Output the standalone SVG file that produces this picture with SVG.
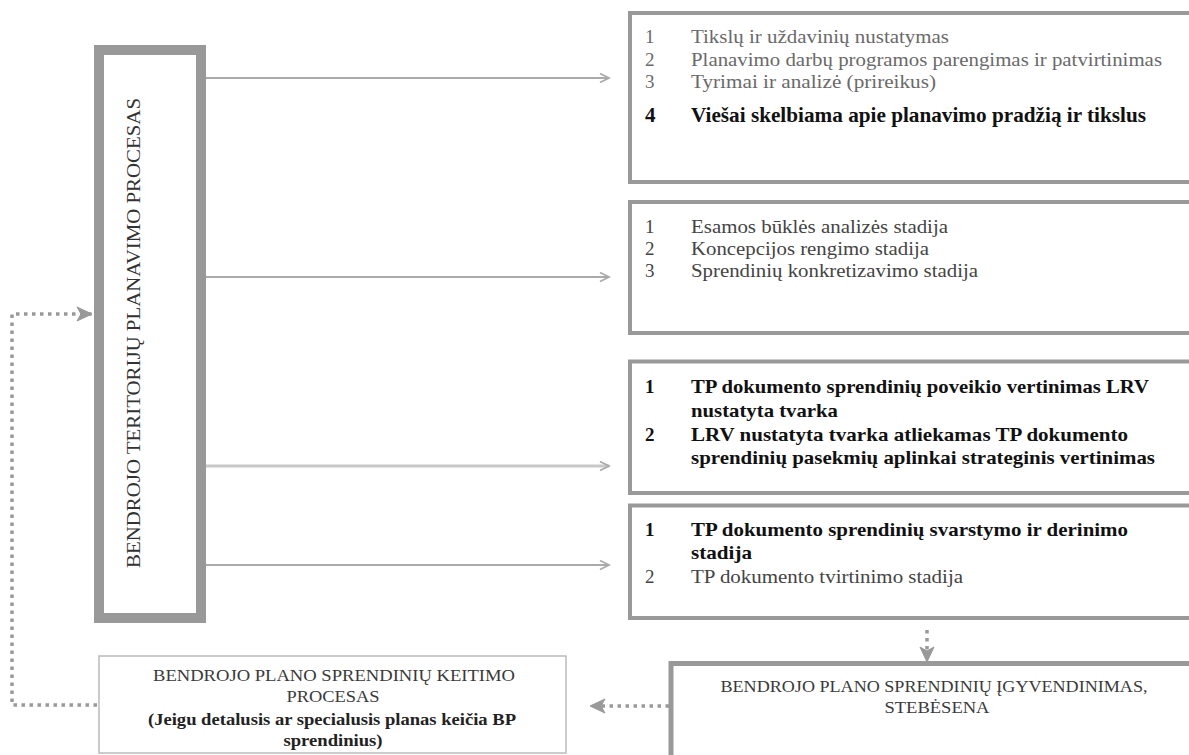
<svg xmlns="http://www.w3.org/2000/svg" width="1189" height="755" viewBox="0 0 1189 755">
<style>
  .t { font-family: "Liberation Serif", "Times New Roman", serif; font-size: 19px; }
  .g1 { fill: #6a6a6a; }
  .g2 { fill: #444; }
  .b { font-weight: bold; fill: #111; }
  .caps { font-family: "Liberation Serif", "Times New Roman", serif; font-size: 16px; fill: #3a3a3a; text-anchor: middle; }
  .box { fill: #fff; stroke: #999; stroke-width: 4; }
  .conn { fill: none; stroke: #aaa; stroke-width: 2; }
  .dot { fill: none; stroke: #999; stroke-width: 3.5; stroke-dasharray: 3.5 4.5; }
</style>
<defs>
  <marker id="open" markerUnits="userSpaceOnUse" markerWidth="12" markerHeight="12" refX="10" refY="6" orient="auto">
    <path d="M1,1.5 L10,6 L1,10.5" fill="none" stroke="#aaa" stroke-width="1.8"/>
  </marker>
  <marker id="dotarr" markerUnits="userSpaceOnUse" markerWidth="18" markerHeight="16" refX="16" refY="8" orient="auto">
    <path d="M1,1 L16,8 L1,15 L5,8 Z" fill="#999" stroke="#999" stroke-width="1"/>
  </marker>
</defs>

<g id="connectors">
  <line class="conn" x1="206" y1="78" x2="609" y2="78" marker-end="url(#open)"/>
  <line class="conn" x1="206" y1="277" x2="609" y2="277" marker-end="url(#open)"/>
  <line class="conn" x1="206" y1="466" x2="609" y2="466" style="stroke:#c8c8c8;stroke-width:3" marker-end="url(#open)"/>
  <line class="conn" x1="206" y1="565" x2="609" y2="565" marker-end="url(#open)"/>
  <polyline class="dot" points="97,705 12,705 12,314 92,314" marker-end="url(#dotarr)"/>
  <line class="dot" x1="927" y1="630" x2="927" y2="662" marker-end="url(#dotarr)"/>
  <line class="dot" x1="669" y1="706" x2="590" y2="706" marker-end="url(#dotarr)"/>
</g>

<g id="main">
  <rect x="99" y="50" width="102" height="568" fill="#fff" stroke="#999" stroke-width="10"/>
  <text class="t" transform="translate(140,568) rotate(-90)" style="font-size:18px;fill:#333" textLength="470" lengthAdjust="spacingAndGlyphs">BENDROJO TERITORIJŲ PLANAVIMO PROCESAS</text>
</g>

<g id="box1">
  <rect class="box" x="630" y="13" width="600" height="169"/>
  <text class="t g1" x="645" y="43">1</text>
  <text class="t g1" x="691" y="43" textLength="258" lengthAdjust="spacingAndGlyphs">Tikslų ir uždavinių nustatymas</text>
  <text class="t g1" x="645" y="66">2</text>
  <text class="t g1" x="691" y="66" textLength="471" lengthAdjust="spacingAndGlyphs">Planavimo darbų programos parengimas ir patvirtinimas</text>
  <text class="t g1" x="645" y="88">3</text>
  <text class="t g1" x="691" y="88" textLength="245" lengthAdjust="spacingAndGlyphs">Tyrimai ir analizė (prireikus)</text>
  <text class="t b" x="645" y="122" style="font-size:21px">4</text>
  <text class="t b" x="691" y="122" style="font-size:21px" textLength="455" lengthAdjust="spacingAndGlyphs">Viešai skelbiama apie planavimo pradžią ir tikslus</text>
</g>

<g id="box2">
  <rect class="box" x="630" y="202" width="600" height="131"/>
  <text class="t g2" x="645" y="233">1</text>
  <text class="t g2" x="691" y="233" textLength="257" lengthAdjust="spacingAndGlyphs">Esamos būklės analizės stadija</text>
  <text class="t g2" x="645" y="255">2</text>
  <text class="t g2" x="691" y="255" textLength="238" lengthAdjust="spacingAndGlyphs">Koncepcijos rengimo stadija</text>
  <text class="t g2" x="645" y="277">3</text>
  <text class="t g2" x="691" y="277" textLength="287" lengthAdjust="spacingAndGlyphs">Sprendinių konkretizavimo stadija</text>
</g>

<g id="box3">
  <rect class="box" x="630" y="361.5" width="600" height="131.5"/>
  <text class="t b" x="645" y="393">1</text>
  <text class="t b" x="691" y="393" textLength="458" lengthAdjust="spacingAndGlyphs">TP dokumento sprendinių poveikio vertinimas LRV</text>
  <text class="t b" x="691" y="417" textLength="147" lengthAdjust="spacingAndGlyphs">nustatyta tvarka</text>
  <text class="t b" x="645" y="441">2</text>
  <text class="t b" x="691" y="441" textLength="437" lengthAdjust="spacingAndGlyphs">LRV nustatyta tvarka atliekamas TP dokumento</text>
  <text class="t b" x="691" y="464" textLength="464" lengthAdjust="spacingAndGlyphs">sprendinių pasekmių aplinkai strateginis vertinimas</text>
</g>

<g id="box4">
  <rect class="box" x="630" y="505.5" width="600" height="112.5"/>
  <text class="t b" x="645" y="536">1</text>
  <text class="t b" x="691" y="536" textLength="437" lengthAdjust="spacingAndGlyphs">TP dokumento sprendinių svarstymo ir derinimo</text>
  <text class="t b" x="691" y="559" textLength="61" lengthAdjust="spacingAndGlyphs">stadija</text>
  <text class="t g2" x="645" y="583">2</text>
  <text class="t g2" x="691" y="583" textLength="272" lengthAdjust="spacingAndGlyphs">TP dokumento tvirtinimo stadija</text>
</g>

<g id="box5">
  <rect x="671" y="663.5" width="600" height="200" fill="#fff" stroke="#999" stroke-width="5"/>
  <text class="caps" x="934" y="692" textLength="427" lengthAdjust="spacingAndGlyphs">BENDROJO PLANO SPRENDINIŲ ĮGYVENDINIMAS,</text>
  <text class="caps" x="937" y="713" textLength="105" lengthAdjust="spacingAndGlyphs">STEBĖSENA</text>
</g>

<g id="keitimas">
  <rect x="99" y="656" width="467" height="97" fill="#fff" stroke="#bbb" stroke-width="1.5"/>
  <text class="caps" x="334" y="681" textLength="362" lengthAdjust="spacingAndGlyphs">BENDROJO PLANO SPRENDINIŲ KEITIMO</text>
  <text class="caps" x="333" y="702" textLength="93" lengthAdjust="spacingAndGlyphs">PROCESAS</text>
  <text class="caps" x="332" y="725" style="font-weight:bold;fill:#222" textLength="368" lengthAdjust="spacingAndGlyphs">(Jeigu detalusis ar specialusis planas keičia BP</text>
  <text class="caps" x="333" y="746" style="font-weight:bold;fill:#222" textLength="99" lengthAdjust="spacingAndGlyphs">sprendinius)</text>
</g>
</svg>
